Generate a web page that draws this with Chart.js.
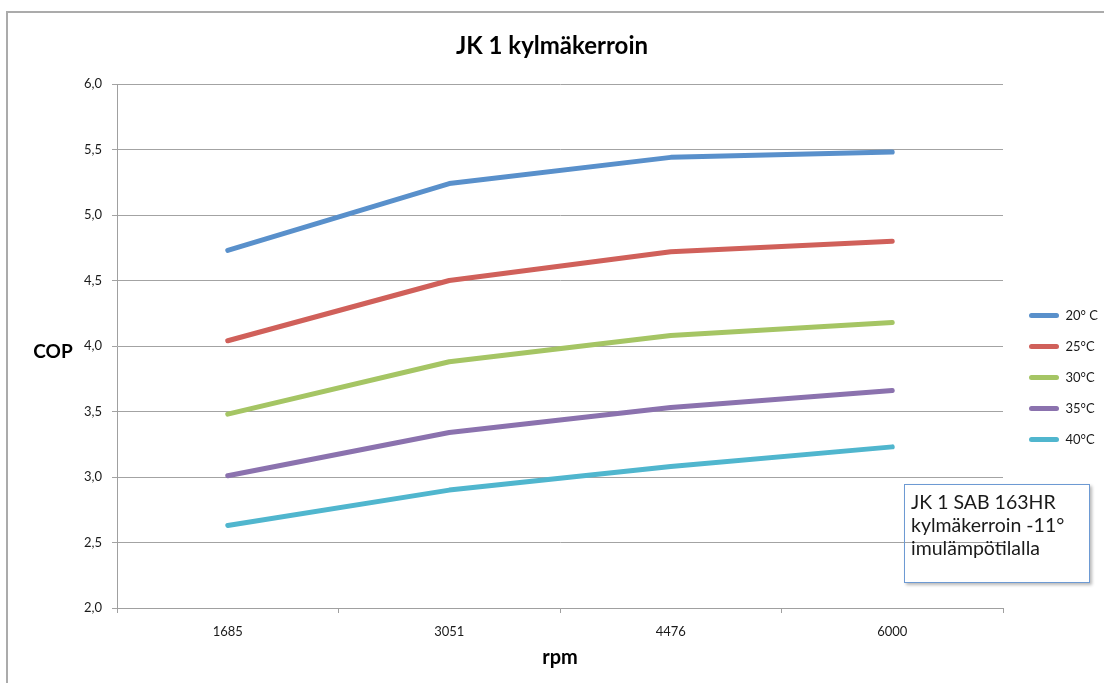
<!DOCTYPE html>
<html>
<head>
<meta charset="utf-8">
<title>JK 1 kylmäkerroin</title>
<script src="https://cdn.jsdelivr.net/npm/chart.js@4.4.1/dist/chart.umd.min.js"></script>
<style>
  html, body { margin: 0; padding: 0; background: #fff; }
  #wrap { position: relative; width: 1104px; height: 683px; overflow: hidden; }
  #frame { position: absolute; left: 6px; top: 11px; width: 1200px; height: 800px;
           border-top: 2px solid #ababab; border-left: 2px solid #ababab; }
  canvas { position: absolute; left: 0; top: 0; }
  #note { position: absolute; left: 904px; top: 484px; width: 186px; height: 99px;
          box-sizing: border-box; border: 1.5px solid #6d9ad3;
          box-shadow: 2px 2px 3px rgba(0,0,0,0.28);
          font: 19.5px Lato, "Open Sans", sans-serif; color: #1a1a1a;
          padding: 5px 0 0 6px; line-height: 23px; white-space: nowrap; }
</style>
</head>
<body>
<div id="wrap">
  <div id="frame"></div>
  <canvas id="c" width="1104" height="683"></canvas>
  <div id="note">JK 1 SAB 163HR<br>kylmäkerroin -11°<br>imulämpötilalla</div>
</div>
<script>
// Compressor speeds (rpm) on the x axis
const rpm = ['1685', '3051', '4476', '6000'];

// Series names (condensing temperature)
const seriesNames = ['20° C', '25°C', '30°C', '35°C', '40°C'];

// COP values per series, one per rpm step
const cop20 = [4.73, 5.24, 5.44, 5.48];
const cop25 = [4.04, 4.50, 4.72, 4.80];
const cop30 = [3.48, 3.88, 4.08, 4.18];
const cop35 = [3.01, 3.34, 3.53, 3.66];
const cop40 = [2.63, 2.90, 3.08, 3.23];

// Y axis tick labels (decimal comma)
const yTickValues = [2.0, 2.5, 3.0, 3.5, 4.0, 4.5, 5.0, 5.5, 6.0];
const yTickLabels = ['2,0', '2,5', '3,0', '3,5', '4,0', '4,5', '5,0', '5,5', '6,0'];

const seriesValues = [cop20, cop25, cop30, cop35, cop40];
const seriesColors = ['#5990cb', '#d0605a', '#a5c564', '#8b72ae', '#50b6ce'];

const FONT = 'Lato, "Open Sans", sans-serif';

const datasets = seriesNames.map((name, i) => ({
  label: name,
  data: seriesValues[i],
  borderColor: seriesColors[i],
  backgroundColor: seriesColors[i],
  borderWidth: 5,
  pointRadius: 0,
  pointHoverRadius: 0,
  tension: 0,
  borderCapStyle: 'round',
  borderJoinStyle: 'round',
  fill: false
}));

// Horizontal "COP" axis caption and legend placement
const extras = {
  id: 'extras',
  beforeLayout(chart) {
    const lg = chart.legend;
    if (lg && !lg._fixedWidth) {
      const fit = lg.fit;
      lg.fit = function () { fit.call(this); this.width = 101; };
      lg._fixedWidth = true;
    }
  },
  afterLayout(chart) {
    const lg = chart.legend;
    if (!lg) return;
    const w = lg.right - lg.left, h = lg.bottom - lg.top;
    lg.left = 1011; lg.right = 1011 + w;
    lg.top = 291; lg.bottom = 291 + h;
  },
  afterDraw(chart) {
    const ctx = chart.ctx;
    ctx.save();
    ctx.font = 'bold 19px ' + FONT;
    ctx.fillStyle = '#000';
    ctx.textAlign = 'center';
    ctx.textBaseline = 'middle';
    ctx.fillText('COP', 53, 352);
    ctx.restore();
  }
};

new Chart(document.getElementById('c'), {
  type: 'line',
  data: { labels: rpm, datasets },
  plugins: [extras],
  options: {
    responsive: false,
    animation: false,
    layout: { padding: 0 },
    plugins: {
      title: {
        display: true,
        text: 'JK 1 kylmäkerroin',
        color: '#000',
        font: { family: FONT, size: 24, weight: 'bold' },
        padding: { top: 32, bottom: 23.2 }
      },
      legend: {
        display: true,
        position: 'right',
        align: 'start',
        fullSize: false,
        labels: {
          color: '#1a1a1a',
          font: { family: FONT, size: 13 },
          boxWidth: 30,
          boxHeight: 5,
          padding: 18,
          generateLabels(chart) {
            const items = Chart.defaults.plugins.legend.labels.generateLabels(chart);
            items.forEach(it => { it.lineWidth = 0; it.borderRadius = 2.5; });
            return items;
          }
        }
      },
      tooltip: { enabled: false }
    },
    scales: {
      x: {
        type: 'category',
        offset: true,
        grid: { offset: true, drawOnChartArea: false, drawTicks: true, tickLength: 5, color: '#a0a0a0' },
        border: { color: '#a0a0a0', width: 1 },
        ticks: { color: '#1a1a1a', font: { family: FONT, size: 13 }, padding: 11, maxRotation: 0 },
        title: {
          display: true, text: 'rpm', color: '#000',
          font: { family: FONT, size: 20, weight: 'bold' },
          padding: { top: 4, bottom: 13 }
        },
        afterFit(s) { s.height = 75; }
      },
      y: {
        min: 2, max: 6,
        grid: { color: '#a3a3a3', lineWidth: 1, tickLength: 5 },
        border: { color: '#a0a0a0', width: 1 },
        ticks: {
          stepSize: 0.5,
          color: '#1a1a1a',
          font: { family: FONT, size: 13 },
          padding: 10,
          callback(v) {
            const i = yTickValues.findIndex(t => Math.abs(t - v) < 1e-6);
            return i >= 0 ? yTickLabels[i] : '';
          }
        },
        afterFit(s) { s.width = 117; }
      }
    }
  }
});
</script>
</body>
</html>
